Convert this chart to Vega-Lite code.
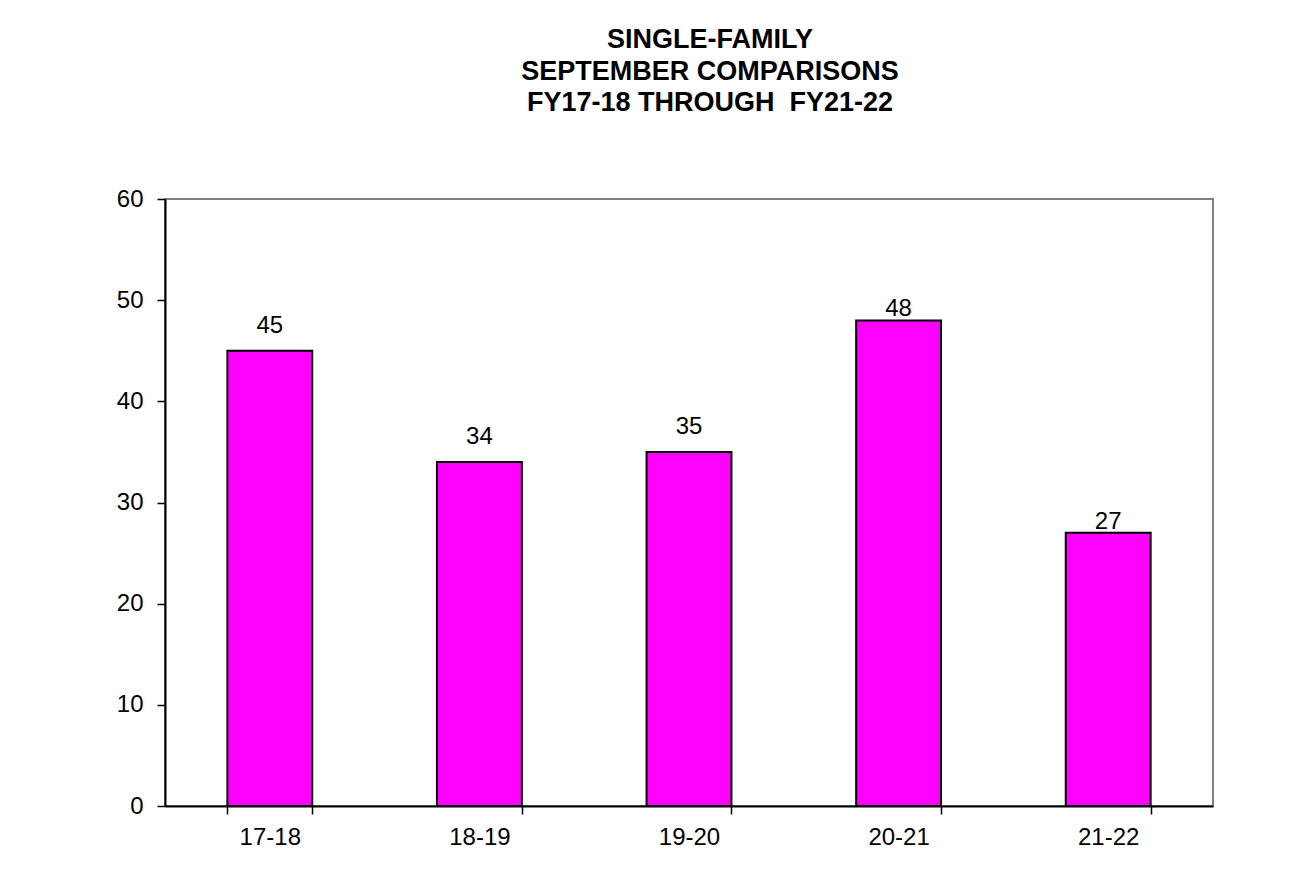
{
  "$schema": "https://vega.github.io/schema/vega-lite/v6.json",
  "autosize": {"type": "none"},
  "width": 1048,
  "height": 607,
  "padding": {"left": 165, "top": 199, "right": 96, "bottom": 90},
  "background": "white",
  "title": {
    "text": ["SINGLE-FAMILY", "SEPTEMBER COMPARISONS", "FY17-18 THROUGH\u00a0 FY21-22"],
    "font": "Liberation Sans",
    "fontSize": 27,
    "fontWeight": "bold",
    "color": "black",
    "lineHeight": 31.5,
    "anchor": "middle",
    "dx": 21,
    "offset": 70
  },
  "data": {
    "values": [
      {"year": "17-18", "count": 45},
      {"year": "18-19", "count": 34},
      {"year": "19-20", "count": 35},
      {"year": "20-21", "count": 48},
      {"year": "21-22", "count": 27}
    ]
  },
  "encoding": {
    "x": {
      "field": "year",
      "type": "nominal",
      "sort": null,
      "title": null,
      "scale": {"paddingInner": 0.595, "paddingOuter": 0.2975},
      "axis": {
        "labelAngle": 0,
        "labelFont": "Liberation Sans",
        "labelFontSize": 24,
        "labelColor": "black",
        "labelPadding": 11,
        "tickBand": "extent",
        "tickSize": 8,
        "tickColor": "black",
        "tickWidth": 1.5,
        "domainColor": "black",
        "domainWidth": 2,
        "grid": false
      }
    },
    "y": {
      "field": "count",
      "type": "quantitative",
      "title": null,
      "scale": {"domain": [0, 60], "nice": false},
      "axis": {
        "values": [0, 10, 20, 30, 40, 50, 60],
        "labelFont": "Liberation Sans",
        "labelFontSize": 24,
        "labelColor": "black",
        "labelPadding": 14,
        "tickSize": 8,
        "tickColor": "black",
        "tickWidth": 1.5,
        "domainColor": "black",
        "domainWidth": 2,
        "grid": false
      }
    }
  },
  "layer": [
    {
      "mark": {"type": "bar", "fill": "#FF00FF", "stroke": "black", "strokeWidth": 2}
    },
    {
      "transform": [{"filter": "datum.year == '17-18' || datum.year == '18-19' || datum.year == '19-20'"}],
      "mark": {"type": "text", "font": "Liberation Sans", "fontSize": 24, "color": "black", "baseline": "alphabetic", "dy": -18},
      "encoding": {"text": {"field": "count", "type": "quantitative"}}
    },
    {
      "transform": [{"filter": "datum.year == '20-21' || datum.year == '21-22'"}],
      "mark": {"type": "text", "font": "Liberation Sans", "fontSize": 24, "color": "black", "baseline": "alphabetic", "dy": -4},
      "encoding": {"text": {"field": "count", "type": "quantitative"}}
    }
  ],
  "config": {
    "view": {"stroke": "#808080", "strokeWidth": 2}
  }
}
